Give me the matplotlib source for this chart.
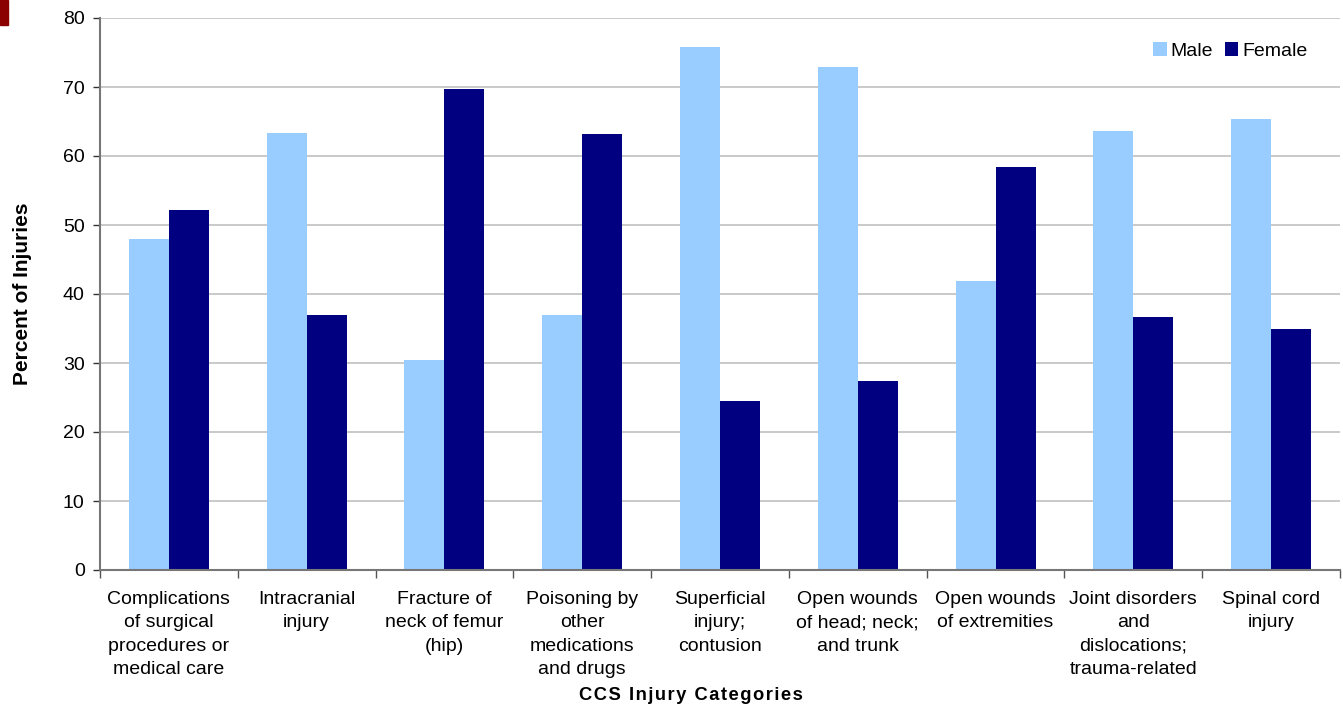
import numpy as np
import matplotlib
matplotlib.use('Agg')
import matplotlib.pyplot as plt
from matplotlib.patches import Rectangle

plt.rcParams['font.family'] = ['Liberation Sans', 'DejaVu Sans']

categories = [
    'Complications\nof surgical\nprocedures or\nmedical care',
    'Intracranial\ninjury',
    'Fracture of\nneck of femur\n(hip)',
    'Poisoning by\nother\nmedications\nand drugs',
    'Superficial\ninjury;\ncontusion',
    'Open wounds\nof head; neck;\nand trunk',
    'Open wounds\nof extremities',
    'Joint disorders\nand\ndislocations;\ntrauma-related',
    'Spinal cord\ninjury',
]
male = [47.9, 63.3, 30.4, 36.9, 75.8, 72.9, 41.9, 63.6, 65.4]
female = [52.2, 36.9, 69.7, 63.2, 24.5, 27.4, 58.4, 36.6, 34.9]
yticks = [0, 10, 20, 30, 40, 50, 60, 70, 80]

male_color = '#99CCFF'
female_color = '#000080'

fig = plt.figure(figsize=(13.43, 7.09), dpi=100)
ax = fig.add_axes([100 / 1343, 139 / 709, 1240 / 1343, 552 / 709])

x = np.arange(len(categories))
w = 0.29
ax.bar(x - w / 2, male, w, color=male_color, label='Male', zorder=2)
ax.bar(x + w / 2, female, w, color=female_color, label='Female', zorder=2)

ax.set_xlim(-0.5, len(categories) - 0.5)
ax.set_ylim(0, 80)
ax.set_yticks(yticks)
ax.yaxis.grid(True, color='#c0c0c0', linewidth=1.2, zorder=0)

ax.set_xticks(x)
ax.set_xticklabels(categories, fontsize=14, linespacing=1.49, va='top')
ax.tick_params(axis='x', length=0, pad=15)
ax.set_xticks(np.arange(len(categories) + 1) - 0.5, minor=True)
ax.tick_params(axis='x', which='minor', length=6, color='#555555', width=1)
ax.tick_params(axis='y', labelsize=14, length=5, width=1, color='#333333', pad=6)

for side in ('top', 'right'):
    ax.spines[side].set_visible(False)
ax.spines['left'].set_color('#777777')
ax.spines['left'].set_linewidth(1.5)
ax.spines['bottom'].set_color('#777777')
ax.spines['bottom'].set_linewidth(1.5)

ax.set_ylabel('Percent of Injuries', fontsize=15, fontweight='bold', labelpad=22)
xlabel = '\u200a'.join('CCS Injury Categories')
fig.text(691 / 1343, 14 / 709, xlabel, ha='center', va='center',
         fontsize=13.2, fontweight='bold')

ax.legend(loc='upper right', frameon=False, fontsize=14, handlelength=0.7,
          handleheight=0.7, handletextpad=0.2, columnspacing=0.6, ncol=2,
          bbox_to_anchor=(0.98, 0.97), borderaxespad=0)

fig.patches.append(Rectangle((0, 1 - 25 / 709), 8 / 1343, 25 / 709,
                             transform=fig.transFigure, color='#8B0000'))

fig.savefig('out.png', dpi=100)
